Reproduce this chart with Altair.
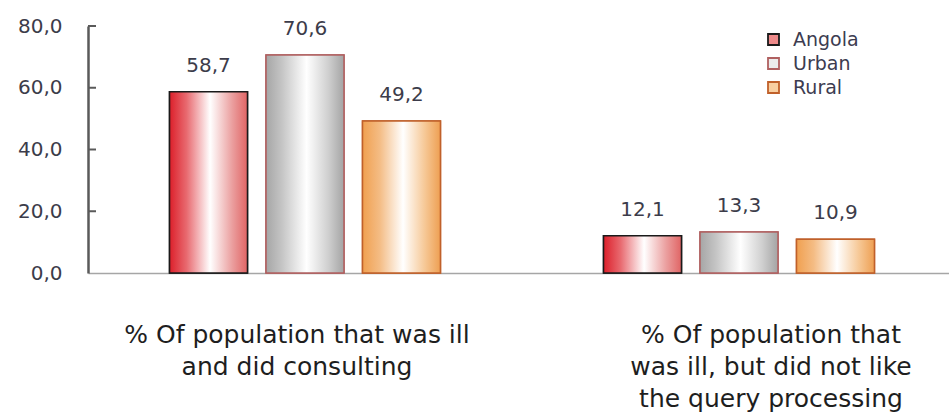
import altair as alt
import pandas as pd

categories = [
    "% Of population that was ill\nand did consulting",
    "% Of population that\nwas ill, but did not like\nthe query processing",
]
series = ["Angola", "Urban", "Rural"]
angola = [58.7, 12.1]
urban = [70.6, 13.3]
rural = [49.2, 10.9]
y_ticks = [0, 20, 40, 60, 80]

rows = []
for s, vals in zip(series, [angola, urban, rural]):
    for c, v in zip(categories, vals):
        rows.append({"cat": c, "series": s, "value": v})
df = pd.DataFrame(rows)
ticks_df = pd.DataFrame({"t": y_ticks[1:]})

legend_fill = ["#ee8a8a", "#ececec", "#f8cfa0"]
stroke_cols = ["#1a1a1a", "#b06060", "#c0602a"]

grads = {
    "Angola": [(0, "#dc1f2a"), (0.22, "#e86a70"), (0.52, "#ffffff"), (0.8, "#eba0a0"), (1, "#e06464")],
    "Urban": [(0, "#a6a6a6"), (0.2, "#c4c4c4"), (0.52, "#ffffff"), (0.8, "#cfcfcf"), (1, "#a4a4a4")],
    "Rural": [(0, "#f0a050"), (0.22, "#f4bc84"), (0.52, "#ffffff"), (0.8, "#f6c896"), (1, "#ee9f52")],
}

x_enc = alt.X(
    "cat:N",
    sort=categories,
    scale=alt.Scale(range=[0, 868], paddingInner=0, paddingOuter=0),
    axis=alt.Axis(
        title=None,
        ticks=False,
        domainColor="#a6a6a6",
        domainWidth=1.5,
        labelAngle=0,
        labelAlign="center",
        labelBaseline="top",
        labelPadding=49,
        labelLineHeight=32,
        labelFont="DejaVu Sans",
        labelFontSize=25,
        labelColor="#1e1e1e",
        labelLimit=500,
        labelExpr="split(datum.label, '\\n')",
        labelOffset={"condition": {"test": "indexof(datum.value, 'consulting') >= 0", "value": -8}, "value": 32},
    ),
)
xo = alt.XOffset(
    "series:N",
    sort=series,
    scale=alt.Scale(domain=series, paddingInner=0.192, paddingOuter=0.845),
)
y_enc = alt.Y(
    "value:Q",
    scale=alt.Scale(domain=[0, 80], nice=False),
    axis=alt.Axis(
        title=None,
        values=y_ticks,
        ticks=False,
        grid=False,
        domainColor="#5a5a5a",
        domainWidth=2.5,
        labelPadding=26,
        labelFont="DejaVu Sans",
        labelFontSize=20,
        labelColor="#3c3c4a",
        labelExpr="replace(format(datum.value, '.1f'), '.', ',')",
    ),
)

base = alt.Chart(df)

solid = base.mark_bar(strokeWidth=1.5).encode(
    x=x_enc,
    xOffset=xo,
    y=y_enc,
    fill=alt.Fill(
        "series:N",
        sort=series,
        scale=alt.Scale(domain=series, range=legend_fill),
        legend=alt.Legend(
            title=None,
            orient="none",
            legendX=676,
            legendY=4,
            symbolType="square",
            symbolSize=121,
            symbolStrokeWidth=1.8,
            labelFont="DejaVu Sans",
            labelFontSize=19,
            labelColor="#3c3c50",
            rowPadding=4,
            labelOffset=10,
            padding=0,
        ),
    ),
    stroke=alt.Stroke(
        "series:N",
        sort=series,
        scale=alt.Scale(domain=series, range=stroke_cols),
    ),
)

layers = [solid]
for s, col in zip(series, stroke_cols):
    grad = {
        "gradient": "linear",
        "x1": 0, "x2": 1, "y1": 0, "y2": 0,
        "stops": [{"offset": o, "color": c} for o, c in grads[s]],
    }
    layers.append(
        base.transform_filter(alt.datum.series == s)
        .mark_bar(fill=grad, stroke=col, strokeWidth=1.5)
        .encode(x=alt.X("cat:N", sort=categories), xOffset=alt.XOffset("series:N", sort=series), y="value:Q")
    )

labels = base.transform_calculate(
    lab="replace(format(datum.value, '.1f'), '.', ',')"
).mark_text(
    font="DejaVu Sans", fontSize=20, color="#3c3c4a", baseline="alphabetic", dy=-20
).encode(
    x=alt.X("cat:N", sort=categories),
    xOffset=alt.XOffset("series:N", sort=series),
    y="value:Q",
    text="lab:N",
)

tick_rules = alt.Chart(ticks_df).mark_rule(color="#5a5a5a", strokeWidth=2).encode(
    y="t:Q", x=alt.value(0), x2=alt.value(8)
)

chart = alt.layer(*layers, labels, tick_rules).properties(
    width=861,
    height=247,
    autosize=alt.AutoSizeParams(type="none"),
    padding={"left": 88, "top": 26, "right": 0, "bottom": 142},
    background="white",
).configure_view(stroke=None)

chart.save("out.html", embed_options={"renderer": "svg", "actions": False})
